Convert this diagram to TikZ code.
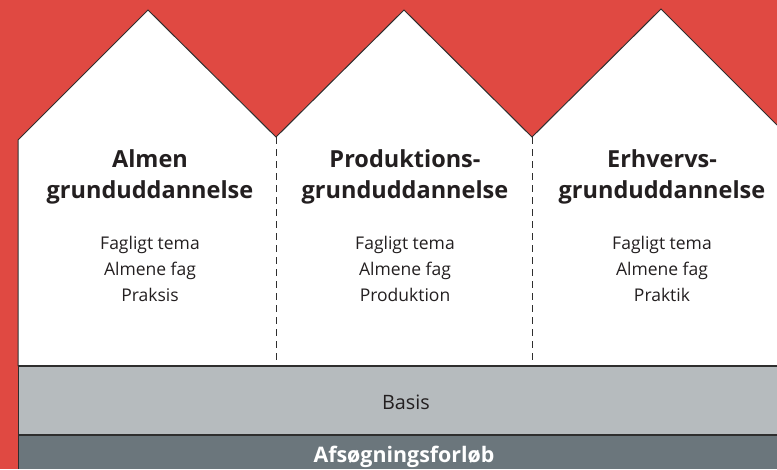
\documentclass[tikz,border=0pt]{standalone}
\usepackage{fontspec}
\setmainfont{Open Sans}
\definecolor{bgred}{HTML}{E04942}
\definecolor{basisgray}{HTML}{B6BBBE}
\definecolor{afsgray}{HTML}{6B767C}
\definecolor{ink}{HTML}{231F20}
\definecolor{edge}{HTML}{2E2E2E}
\begin{document}
\begin{tikzpicture}[x=1pt,y=-1pt,
  outline/.style={draw=edge,line width=1pt},
  divider/.style={draw=edge,line width=1pt,dash pattern=on 7pt off 5pt},
  titletext/.style={text=ink,align=center,inner sep=0pt,font=\fontsize{23.5}{30.5}\selectfont\bfseries},
  bodytext/.style={text=ink,align=center,inner sep=0pt,font=\fontsize{17.5}{26}\selectfont},
]
\useasboundingbox (0,0) rectangle (777,469);
\fill[bgred] (0,0) rectangle (777,469);
% houses
\fill[white] (18,366) -- (18,140) -- (148,10) -- (276,137) -- (404,10) -- (532,137) -- (661,9) -- (777,125) -- (777,366) -- cycle;
\draw[outline] (18,366) -- (18,140) -- (148,10) -- (276,137) -- (404,10) -- (532,137) -- (661,9) -- (777,125);
\coordinate (v1) at (276,137);
\coordinate (v2) at (532,137);
\coordinate (b1) at (276,366);
\coordinate (b2) at (532,366);
\draw[divider] (v1) -- (b1);
\draw[divider] (v2) -- (b2);
% bars
\fill[basisgray] (18,366) rectangle (777,435);
\fill[afsgray] (18,435) rectangle (777,469);
\draw[edge,line width=1.5pt] (18,366) -- (777,366);
\draw[edge,line width=1.5pt] (18,435) -- (777,435);
\draw[edge,line width=1pt] (18,366) -- (18,469);
% texts
\node[titletext] (t1) at (150,177) {Almen\\grunduddannelse};
\node[titletext] (t2) at (405,177) {Produktions-\\grunduddannelse};
\node[titletext] (t3) at (662,177) {Erhvervs-\\grunduddannelse};
\node[bodytext] (c1) at (150,269) {Fagligt tema\\Almene fag\\Praksis};
\node[bodytext] (c2) at (405,269) {Fagligt tema\\Almene fag\\Produktion};
\node[bodytext] (c3) at (662,269) {Fagligt tema\\Almene fag\\Praktik};
\node[text=ink,inner sep=0pt,font=\fontsize{19.8}{20}\selectfont,anchor=base] (basis) at (406,409) {Basis};
\node[text=white,inner sep=0pt,font=\fontsize{21.4}{20}\selectfont\bfseries,anchor=base] (afs) at (404,462) {Afsøgningsforløb};
\end{tikzpicture}
\end{document}
